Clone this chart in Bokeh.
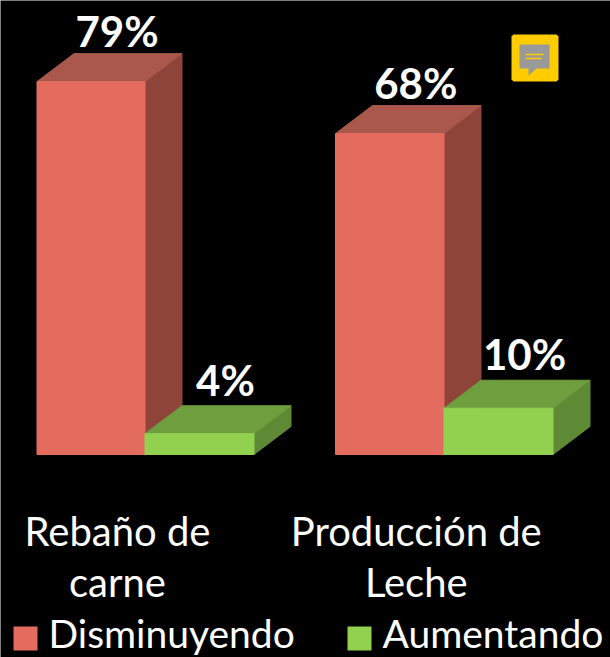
from bokeh.plotting import figure
from bokeh.models import Range1d
from bokeh.core.properties import value
from bokeh.embed import file_html
from bokeh.resources import INLINE

categories = ["Rebaño de\ncarne", "Producción de\nLeche"]
disminuyendo = [79, 68]
aumentando = [4.4, 9.8]
dis_labels = ["79%", "68%"]
aum_labels = ["4%", "10%"]
series_names = ["Disminuyendo", "Aumentando"]

RED = ("#E46C5F", "#A9584B", "#8E4439")
GREEN = ("#92D050", "#6F9E3E", "#5F8A35")
BASE_Y = 454
PX = 4.72
DX, DY = 37, 28 / PX


def sy(py):
    return (BASE_Y - py) / PX


p = figure(width=610, height=657, output_backend="svg", toolbar_location=None,
           x_range=Range1d(0, 610), y_range=Range1d(sy(657), sy(0)),
           min_border=0, background_fill_color="black", border_fill_color="black",
           outline_line_color=None, x_axis_location=None, y_axis_location=None)
p.xgrid.visible = False
p.ygrid.visible = False


def box(x0, x1, v, colors):
    front, top, side = colors
    p.patch([x1, x1 + DX, x1 + DX, x1], [0, DY, v + DY, v], fill_color=side,
            line_color=side, line_width=1)
    p.patch([x0, x0 + DX, x1 + DX, x1], [v, v + DY, v + DY, v], fill_color=top,
            line_color=top, line_width=1)
    p.quad(left=[x0], right=[x1], bottom=[0], top=[v], fill_color=front,
           line_color=front, line_width=1)


def label(x, y, s, size, bold=False, align="center"):
    p.text([x], [y], text=[s], text_color="white", text_font=value("Lato"),
           text_font_size=size, text_font_style="bold" if bold else "normal",
           text_align=align, text_baseline="middle")


groups = [(36.5, 144.5, 253.5), (335, 443.5, 552.5)]
for (a, b, c), d, u, dl, ul, cat in zip(groups, disminuyendo, aumentando,
                                        dis_labels, aum_labels, categories):
    box(a, b, d, RED)
    box(b, c, u, GREEN)
    label((a + b) / 2 + 26, d + DY + 23 / PX, dl, "42px", True)
    label((b + c) / 2 + 26, u + DY + 26 / PX, ul, "42px", True)
    l1, l2 = cat.split("\n")
    label((a + c) / 2 - 28, sy(530), l1, "40px")
    label((a + c) / 2 - 28, sy(581), l2, "40px")

for x, col, name, tx in zip([13, 347], [RED[0], GREEN[0]], series_names, [48, 382]):
    p.quad(left=[x], right=[x + 24], bottom=[sy(650)], top=[sy(626)],
           fill_color=col, line_color=None)
    label(tx, sy(632.5), name, "39px", align="left")

# comment icon
p.patch([513, 556, 558, 558, 556, 513, 511, 511],
        [sy(34), sy(34), sy(36), sy(79), sy(81), sy(81), sy(79), sy(36)],
        fill_color="#FFCC00", line_color=None)
p.patch([519, 549, 549, 536, 528, 528, 519],
        [sy(44), sy(44), sy(68), sy(68), sy(75), sy(68), sy(68)],
        fill_color="#999999", line_color=None)
p.segment([525, 525], [sy(54), sy(58)], [543, 541], [sy(54), sy(58)],
          line_color="#FFCC00", line_width=1.5)

open("out.html", "w").write(file_html(p, INLINE))
